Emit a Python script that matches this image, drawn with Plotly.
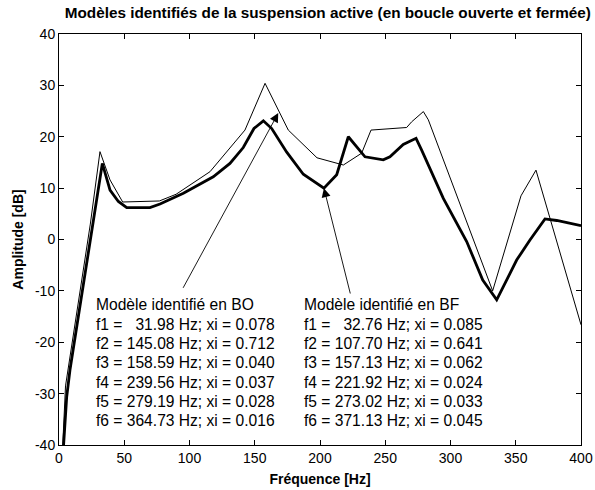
import plotly.graph_objects as go

# Identified model (open loop, BO): frequency [Hz] and amplitude [dB]
freq_bo = [2.5, 5.0, 24.0, 31.4, 39.1, 48.8, 76.9, 89.7, 115.7, 142.5, 157.9,
           175.7, 197.7, 217.9, 231.9, 239.1, 266.4, 270.2, 279.2, 283.0,
           332.3, 354.0, 365.5, 400.0]
amp_bo = [-42.0, -28.5, 3.0, 17.1, 11.6, 7.3, 7.5, 8.8, 13.2, 21.3, 30.4,
          21.3, 15.9, 14.5, 16.8, 21.3, 21.8, 22.9, 24.9, 23.3,
          -10.0, 8.5, 13.5, -16.6]

# Identified model (closed loop, BF)
freq_bf = [3.0, 5.9, 8.4, 26.3, 33.2, 39.1, 45.5, 51.9, 69.7, 77.4, 95.3,
           118.2, 131.0, 141.2, 149.4, 156.6, 163.0, 174.5, 187.2, 203.0,
           212.8, 221.7, 234.5, 248.5, 253.6, 263.8, 273.6, 277.9, 294.5,
           312.4, 324.7, 335.4, 350.7, 360.9, 372.4, 381.4, 400.0]
amp_bf = [-42.0, -30.6, -25.4, 3.2, 14.8, 9.6, 7.4, 6.2, 6.2, 6.9, 9.0,
          12.2, 14.8, 17.9, 21.6, 23.1, 21.6, 17.0, 12.7, 10.0,
          12.6, 20.0, 16.1, 15.5, 16.1, 18.5, 19.7, 17.4, 8.0,
          -0.4, -7.9, -11.75, -4.0, -0.1, 4.0, 3.7, 2.7]

# Legend blocks (mode frequencies and damping)
label_bo = ["Modèle identifié en BO",
            "f1 =\u00a0\u00a0\u00a031.98 Hz; xi = 0.078",
            "f2 = 145.08 Hz; xi = 0.712",
            "f3 = 158.59 Hz; xi = 0.040",
            "f4 = 239.56 Hz; xi = 0.037",
            "f5 = 279.19 Hz; xi = 0.028",
            "f6 = 364.73 Hz; xi = 0.016"]
label_bf = ["Modèle identifié en BF",
            "f1 =\u00a0\u00a0\u00a032.76 Hz; xi = 0.085",
            "f2 = 107.70 Hz; xi = 0.641",
            "f3 = 157.13 Hz; xi = 0.062",
            "f4 = 221.92 Hz; xi = 0.024",
            "f5 = 273.02 Hz; xi = 0.033",
            "f6 = 371.13 Hz; xi = 0.045"]
label_x = [26.8, 186.2]
label_y_top = -12.7
label_step = 3.76

# Arrows from each text block to its curve: (tail f, tail dB, head f, head dB)
arrows = [(94.5, -9.7, 168.0, 24.6),
          (223.5, -10.8, 203.0, 10.0)]

x_ticks = [0, 50, 100, 150, 200, 250, 300, 350, 400]
y_ticks = [-40, -30, -20, -10, 0, 10, 20, 30, 40]
y_tick_text = [str(v) for v in y_ticks]

FONT = "Liberation Sans, Arial, sans-serif"

fig = go.Figure()
fig.add_trace(go.Scatter(x=freq_bo, y=amp_bo, mode="lines",
                         line=dict(color="black", width=1), showlegend=False))
fig.add_trace(go.Scatter(x=freq_bf, y=amp_bf, mode="lines",
                         line=dict(color="black", width=2.8), showlegend=False))

annotations = []
for xs, lines in zip(label_x, [label_bo, label_bf]):
    for i, txt in enumerate(lines):
        annotations.append(dict(x=xs, y=label_y_top - i * label_step,
                                xref="x", yref="y", text=txt, showarrow=False,
                                xanchor="left", yanchor="middle",
                                font=dict(family=FONT, size=15.6, color="black")))
for tx, ty, hx, hy in arrows:
    annotations.append(dict(x=hx, y=hy, ax=tx, ay=ty, xref="x", yref="y",
                            axref="x", ayref="y", text="", showarrow=True,
                            arrowhead=2, arrowsize=2.0, arrowwidth=0.9,
                            arrowcolor="black", standoff=0, startstandoff=0))

fig.update_layout(
    width=595, height=490,
    margin=dict(l=59, r=14, t=34, b=45, autoexpand=False),
    paper_bgcolor="white", plot_bgcolor="white",
    font=dict(family=FONT, size=14, color="black"),
    title=dict(text="<b>Modèles identifiés de la suspension active (en boucle ouverte et fermée)</b>",
               x=0.515, xref="paper", xanchor="center",
               y=1 - 13 / 490, yanchor="middle",
               font=dict(family=FONT, size=15.3, color="black")),
    annotations=annotations,
)
fig.update_xaxes(range=[0, 400], tickvals=x_ticks, ticks="inside", ticklen=5,
                 tickcolor="black", showline=True, linecolor="black", linewidth=1,
                 mirror="ticks", showgrid=False, zeroline=False, automargin=False,
                 title=dict(text="<b>Fréquence [Hz]</b>", standoff=9,
                            font=dict(family=FONT, size=14)))
fig.update_yaxes(range=[-40, 40], tickvals=y_ticks, ticktext=y_tick_text,
                 ticks="inside", ticklen=5,
                 tickcolor="black", showline=True, linecolor="black", linewidth=1,
                 mirror="ticks", showgrid=False, zeroline=False, automargin=False,
                 title=dict(text="<b>Amplitude [dB]</b>", standoff=8,
                            font=dict(family=FONT, size=14)))

fig.write_html("out.html")
